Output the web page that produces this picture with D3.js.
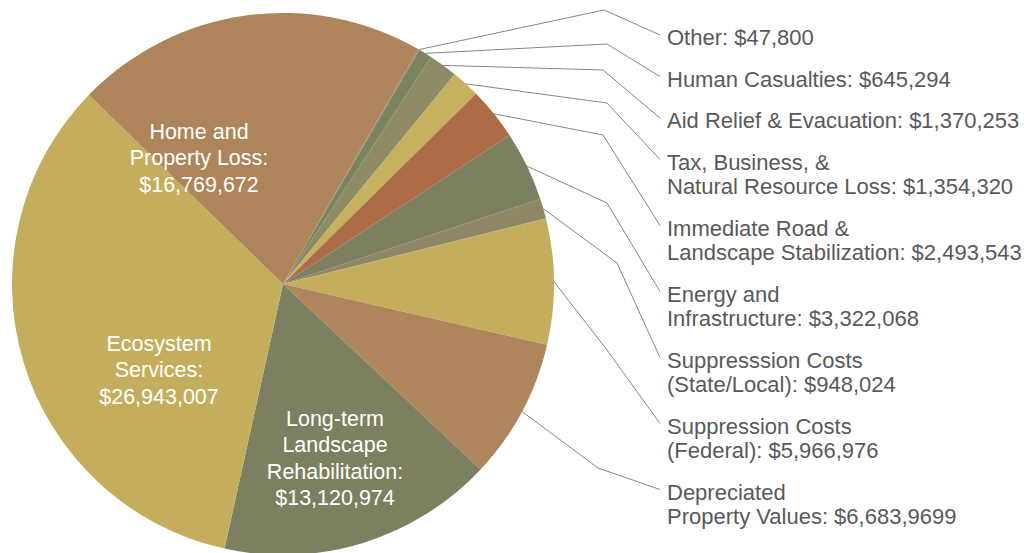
<!DOCTYPE html>
<html>
<head>
<meta charset="utf-8">
<title>Wildfire Cost Breakdown</title>
<script src="https://cdn.jsdelivr.net/npm/d3@7"></script>
<style>
  html, body { margin: 0; padding: 0; background: #ffffff; }
  svg { display: block; }
  text { font-family: "Liberation Sans", Arial, sans-serif; }
</style>
</head>
<body>
<svg id="chart" width="1024" height="553"></svg>
<script>
// ---- Data -------------------------------------------------------------
const categories = [
  "Other",
  "Human Casualties",
  "Aid Relief & Evacuation",
  "Tax, Business, & Natural Resource Loss",
  "Immediate Road & Landscape Stabilization",
  "Energy and Infrastructure",
  "Suppresssion Costs (State/Local)",
  "Suppression Costs (Federal)",
  "Depreciated Property Values",
  "Long-term Landscape Rehabilitation",
  "Ecosystem Services",
  "Home and Property Loss"
];

const costs = [
  47800, 645294, 1370253, 1354320, 2493543, 3322068,
  948024, 5966976, 6683969, 13120974, 26943007, 16769672
];

// Text lines for each category's label, as printed
const labelLines = [
  ["Other: $47,800"],
  ["Human Casualties: $645,294"],
  ["Aid Relief & Evacuation: $1,370,253"],
  ["Tax, Business, &", "Natural Resource Loss: $1,354,320"],
  ["Immediate Road &", "Landscape Stabilization: $2,493,543"],
  ["Energy and", "Infrastructure: $3,322,068"],
  ["Suppresssion Costs", "(State/Local): $948,024"],
  ["Suppression Costs", "(Federal): $5,966,976"],
  ["Depreciated", "Property Values: $6,683,9699"],
  ["Long-term", "Landscape", "Rehabilitation:", "$13,120,974"],
  ["Ecosystem", "Services:", "$26,943,007"],
  ["Home and", "Property Loss:", "$16,769,672"]
];

// Categories whose label sits inside the pie
const insideLabelled = [
  "Long-term Landscape Rehabilitation",
  "Ecosystem Services",
  "Home and Property Loss"
];

const sliceColors = [
  "#8a8a68", "#7b8361", "#8d8a66", "#c6b25e", "#ad6b46", "#7c8060",
  "#8e8766", "#c4ae5e", "#af855b", "#7c8060", "#c4ae5e", "#ae855a"
];

// ---- Layout -----------------------------------------------------------
const width = 1024, height = 553;
const cx = 283, cy = 284, radius = 271;
const startDeg = 30;

// leader-line bends for the outside labels (page coordinates)
const leaderBends = [
  [604, 10], [607, 44], [603, 70], [607, 103], [603, 135],
  [607, 203], [617, 263], [607, 350], [598, 468]
];
// inside label anchors, offsets from the pie centre to the first baseline
const insideOffsets = {
  "Long-term Landscape Rehabilitation": [52, 142],
  "Ecosystem Services": [-124, 67],
  "Home and Property Loss": [-84, -145]
};

const outFontSize = 22;
const inFontSize = 21.5;
const outLabelX = 667;
const outFirstBaseline = 45;
const outLineStep = 24.5;
const outGroupStep = 41.5;
const inLineStep = 26.3;

const svg = d3.select("#chart");

const rows = categories.map((c, i) => ({
  name: c, value: costs[i], color: sliceColors[i], lines: labelLines[i]
}));

const pie = d3.pie()
  .sort(null)
  .value(d => d.value)
  .startAngle(startDeg * Math.PI / 180)
  .endAngle(startDeg * Math.PI / 180 + 2 * Math.PI);

const arcs = pie(rows);

const arc = d3.arc().innerRadius(0).outerRadius(radius);
const rim = d3.arc().innerRadius(radius).outerRadius(radius);

const g = svg.append("g").attr("transform", `translate(${cx},${cy})`);

g.selectAll("path.slice")
  .data(arcs)
  .join("path")
  .attr("class", "slice")
  .attr("d", arc)
  .attr("fill", d => d.data.color);

// ---- Outside labels with leader lines --------------------------------
const outside = arcs.filter(d => !insideLabelled.includes(d.data.name));

let extraLines = 0;
outside.forEach((d, k) => {
  const baseline = outFirstBaseline + k * outGroupStep + extraLines * outLineStep;
  extraLines += d.data.lines.length - 1;

  const [sx, sy] = rim.centroid(d);
  const start = [cx + sx, cy + sy];
  const bend = leaderBends[k];
  const end = [outLabelX - 7, baseline - 10];

  svg.append("path")
    .attr("d", d3.line()([start, bend, end]))
    .attr("fill", "none")
    .attr("stroke", "#858585")
    .attr("stroke-width", 1);

  const t = svg.append("text")
    .attr("x", outLabelX)
    .attr("y", baseline)
    .attr("font-size", outFontSize)
    .attr("fill", "#595959");
  d.data.lines.forEach((line, j) => {
    t.append("tspan")
      .attr("x", outLabelX)
      .attr("y", baseline + j * outLineStep)
      .text(line);
  });
});

// ---- Inside labels ---------------------------------------------------
arcs.filter(d => insideLabelled.includes(d.data.name)).forEach(d => {
  const [ox, oy] = insideOffsets[d.data.name];
  const t = svg.append("text")
    .attr("text-anchor", "middle")
    .attr("font-size", inFontSize)
    .attr("fill", "#ffffff");
  d.data.lines.forEach((line, j) => {
    t.append("tspan")
      .attr("x", cx + ox)
      .attr("y", cy + oy + j * inLineStep)
      .text(line);
  });
});
</script>
</body>
</html>
